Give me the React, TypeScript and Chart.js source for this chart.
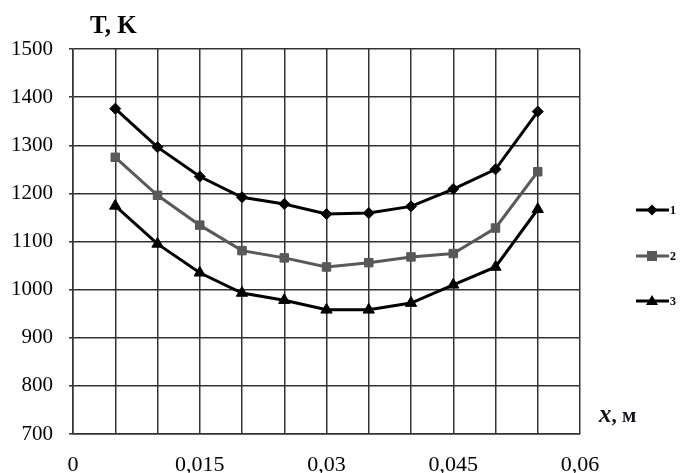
import React, { useEffect, useRef } from "react";
import { Chart, registerables } from "chart.js";

Chart.register(...registerables);

const xValues = [0.005, 0.01, 0.015, 0.02, 0.025, 0.03, 0.035, 0.04, 0.045, 0.05, 0.055];
const series1 = [1376, 1296, 1235, 1192, 1178, 1157, 1159, 1173, 1209, 1250, 1370];
const series2 = [1275, 1196, 1134, 1081, 1066, 1047, 1056, 1068, 1075, 1128, 1245];
const series3 = [1174, 1095, 1035, 993, 978, 958, 958, 972, 1010, 1047, 1167];
const seriesLabels = ["1", "2", "3"];
const yTitle = "T, K";
const xTitleItalic = "x";
const xTitleRest = ", м";

const FONT = "'Liberation Serif', 'Times New Roman', serif";

const fmtX = (v: number) => String(parseFloat(v.toFixed(3))).replace(".", ",");

export default function App() {
  const ref = useRef<HTMLCanvasElement | null>(null);
  useEffect(() => {
    if (!ref.current) return;
    const mk = (vals: number[]) => xValues.map((x, i) => ({ x, y: vals[i] }));
    const styles = [
      { color: "#000000", point: "rectRot", r: 5.5 },
      { color: "#595959", point: "rect", r: 6 },
      { color: "#000000", point: "triangle", r: 6.5 },
    ];
    const datasets = [series1, series2, series3].map((vals, i) => ({
      label: seriesLabels[i],
      data: mk(vals),
      borderColor: styles[i].color,
      backgroundColor: styles[i].color,
      borderWidth: 3,
      pointStyle: styles[i].point as any,
      pointRadius: styles[i].r,
      pointBackgroundColor: styles[i].color,
      pointBorderColor: styles[i].color,
      pointBorderWidth: 1,
      tension: 0,
    }));

    const overlay = {
      id: "overlay",
      afterDraw(chart: any) {
        const ctx = chart.ctx;
        ctx.save();
        ctx.fillStyle = "#000";
        ctx.textBaseline = "middle";
        ctx.textAlign = "left";
        ctx.font = `bold 25px ${FONT}`;
        ctx.fillText(yTitle, 90, 27);
        // x title
        ctx.font = `italic bold 25px ${FONT}`;
        ctx.fillStyle = "#101020";
        ctx.fillText(xTitleItalic, 599, 416);
        const w = ctx.measureText(xTitleItalic).width;
        ctx.font = `bold 21px ${FONT}`;
        ctx.fillText(xTitleRest, 599 + w, 417);
        // legend
        const ys = [210, 256, 301];
        datasets.forEach((d: any, i: number) => {
          const y = ys[i];
          ctx.strokeStyle = d.borderColor;
          ctx.fillStyle = d.borderColor;
          ctx.lineWidth = 3;
          ctx.beginPath();
          ctx.moveTo(636, y);
          ctx.lineTo(669, y);
          ctx.stroke();
          const cx = 652;
          ctx.beginPath();
          if (d.pointStyle === "rectRot") {
            const r = 5.5;
            ctx.moveTo(cx, y - r);
            ctx.lineTo(cx + r, y);
            ctx.lineTo(cx, y + r);
            ctx.lineTo(cx - r, y);
            ctx.closePath();
          } else if (d.pointStyle === "rect") {
            ctx.rect(cx - 5, y - 5, 10, 10);
          } else {
            ctx.moveTo(cx, y - 6);
            ctx.lineTo(cx + 6, y + 4);
            ctx.lineTo(cx - 6, y + 4);
            ctx.closePath();
          }
          ctx.fill();
          ctx.fillStyle = "#000";
          ctx.font = `bold 12px ${FONT}`;
          ctx.fillText(d.label, 670, y + 1);
        });
        ctx.restore();
      },
    };

    const chart = new Chart(ref.current, {
      type: "line",
      data: { datasets: datasets as any },
      options: {
        animation: false,
        responsive: false,
        maintainAspectRatio: false,
        layout: { padding: { left: 0, right: 100, top: 49, bottom: 0 } },
        plugins: { legend: { display: false }, tooltip: { enabled: false } },
        scales: {
          x: {
            type: "linear",
            min: 0,
            max: 0.06,
            afterBuildTicks: (scale: any) => {
              const t = [];
              for (let i = 0; i <= 12; i++) t.push({ value: i * 0.005 });
              scale.ticks = t;
            },
            afterFit: (scale: any) => {
              scale.height = 39;
            },
            grid: { color: "#333333", lineWidth: 1.5, drawTicks: false },
            border: { color: "#333333", width: 1.5 },
            ticks: {
              autoSkip: false,
              maxRotation: 0,
              padding: 18,
              color: "#000",
              font: { family: FONT, size: 22 },
              callback: (v: any, i: number) => (i % 3 === 0 ? fmtX(Number(v)) : ""),
            },
          },
          y: {
            min: 700,
            max: 1500,
            afterFit: (scale: any) => {
              scale.width = 73;
            },
            grid: { color: "#333333", lineWidth: 1.5, drawTicks: true, tickLength: 4 },
            border: { color: "#333333", width: 1.5 },
            ticks: {
              stepSize: 100,
              padding: 16,
              color: "#000",
              font: { family: FONT, size: 21 },
              callback: (v: any) => String(v),
            },
          },
        },
      },
      plugins: [overlay],
    });
    return () => chart.destroy();
  }, []);
  return (
    <div style={{ position: "fixed", left: 0, top: 0, width: 680, height: 473, background: "#fff" }}>
      <canvas ref={ref} width={680} height={473} style={{ width: 680, height: 473 }} />
    </div>
  );
}
